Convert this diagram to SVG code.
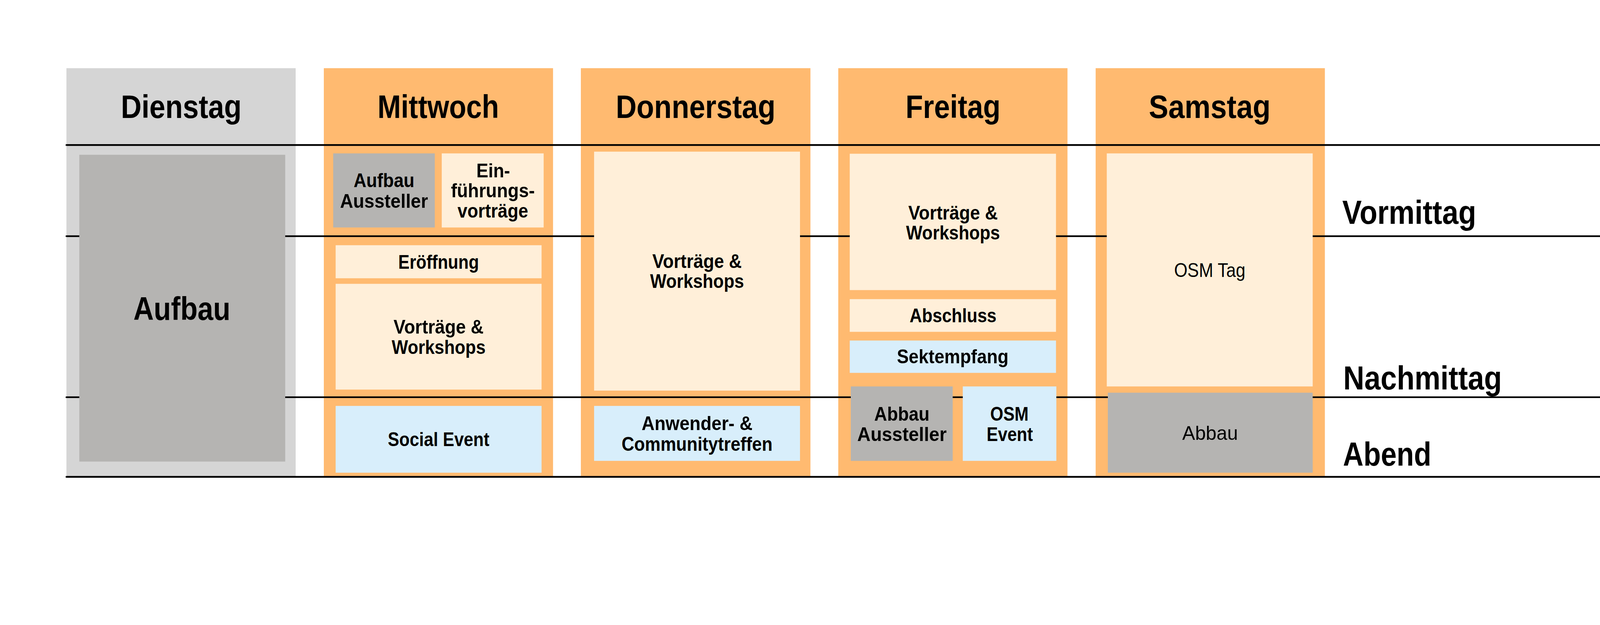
<svg xmlns="http://www.w3.org/2000/svg" width="4600" height="1600" viewBox="0 0 4600 1600" preserveAspectRatio="xMinYMin meet">
<style>
svg{width:100%;height:100%;overflow:hidden}
.bg{fill:#ffffff}
.colg{fill:#d5d5d5}
.colo{fill:#ffba70}
.gray{fill:#b5b4b2}
.cream{fill:#ffefd9}
.blue{fill:#d8eefb}
.ln{stroke:#000;stroke-width:5;stroke-linecap:round;fill:none}
text{font-family:"Liberation Sans",Arial,sans-serif;fill:#000;text-anchor:middle;font-weight:bold}
.h{font-size:94px}
.b{font-size:57px}
.r{font-size:57px;font-weight:normal}
.lab{font-size:95px;text-anchor:start}
</style>
<rect class="bg" x="0" y="0" width="4600" height="1600"/>
<g id="columns">
<rect class="colg" x="191" y="196" width="659" height="1177"/>
<rect class="colo" x="931" y="196" width="659" height="1177"/>
<rect class="colo" x="1670" y="196" width="660" height="1177"/>
<rect class="colo" x="2410" y="196" width="659" height="1177"/>
<rect class="colo" x="3150" y="196" width="659" height="1177"/>
</g>
<g id="connectors">
<line class="ln" x1="191" y1="417" x2="4600" y2="417"/>
<line class="ln" x1="191" y1="679" x2="4600" y2="679"/>
<line class="ln" x1="191" y1="1142" x2="4600" y2="1142"/>
<line class="ln" x1="191" y1="1371" x2="4600" y2="1371"/>
</g>
<g id="dienstag">
<text class="h" x="521" y="339" textLength="347" lengthAdjust="spacingAndGlyphs">Dienstag</text>
</g>
<g id="mittwoch">
<text class="h" x="1260" y="339" textLength="349" lengthAdjust="spacingAndGlyphs">Mittwoch</text>
</g>
<g id="donnerstag">
<text class="h" x="2000" y="339" textLength="459" lengthAdjust="spacingAndGlyphs">Donnerstag</text>
</g>
<g id="freitag">
<text class="h" x="2740" y="339" textLength="273" lengthAdjust="spacingAndGlyphs">Freitag</text>
</g>
<g id="samstag">
<text class="h" x="3478" y="339" textLength="350" lengthAdjust="spacingAndGlyphs">Samstag</text>
</g>
<g id="di-aufbau">
<rect class="gray" x="228" y="445" width="592" height="882"/>
<text class="h" x="523" y="920" textLength="279" lengthAdjust="spacingAndGlyphs">Aufbau</text>
</g>
<g id="mi-aufbau-aussteller">
<rect class="gray" x="958" y="441" width="292" height="213"/>
<text class="b" x="1104" y="538" textLength="175" lengthAdjust="spacingAndGlyphs">Aufbau</text>
<text class="b" x="1104" y="598" textLength="253" lengthAdjust="spacingAndGlyphs">Aussteller</text>
</g>
<g id="mi-einfuehrung">
<rect class="cream" x="1270" y="441" width="293" height="213"/>
<text class="b" x="1418" y="510" textLength="97" lengthAdjust="spacingAndGlyphs">Ein-</text>
<text class="b" x="1417" y="567" textLength="241" lengthAdjust="spacingAndGlyphs">führungs-</text>
<text class="b" x="1417" y="625" textLength="203" lengthAdjust="spacingAndGlyphs">vorträge</text>
</g>
<g id="mi-eroeffnung">
<rect class="cream" x="965" y="705" width="592" height="95"/>
<text class="b" x="1261" y="773" textLength="232" lengthAdjust="spacingAndGlyphs">Eröffnung</text>
</g>
<g id="mi-vortraege">
<rect class="cream" x="965" y="816" width="592" height="304"/>
<text class="b" x="1261" y="959" textLength="259" lengthAdjust="spacingAndGlyphs">Vorträge &amp;</text>
<text class="b" x="1261" y="1017" textLength="270" lengthAdjust="spacingAndGlyphs">Workshops</text>
</g>
<g id="mi-social">
<rect class="blue" x="965" y="1167" width="592" height="192"/>
<text class="b" x="1261" y="1283" textLength="292" lengthAdjust="spacingAndGlyphs">Social Event</text>
</g>
<g id="do-vortraege">
<rect class="cream" x="1708" y="436" width="592" height="687"/>
<text class="b" x="2004" y="770" textLength="257" lengthAdjust="spacingAndGlyphs">Vorträge &amp;</text>
<text class="b" x="2004" y="828" textLength="270" lengthAdjust="spacingAndGlyphs">Workshops</text>
</g>
<g id="do-anwender">
<rect class="blue" x="1708" y="1167" width="592" height="158"/>
<text class="b" x="2004" y="1237" textLength="319" lengthAdjust="spacingAndGlyphs">Anwender- &amp;</text>
<text class="b" x="2004" y="1296" textLength="434" lengthAdjust="spacingAndGlyphs">Communitytreffen</text>
</g>
<g id="fr-vortraege">
<rect class="cream" x="2443" y="442" width="593" height="392"/>
<text class="b" x="2740" y="631" textLength="257" lengthAdjust="spacingAndGlyphs">Vorträge &amp;</text>
<text class="b" x="2740" y="688" textLength="270" lengthAdjust="spacingAndGlyphs">Workshops</text>
</g>
<g id="fr-abschluss">
<rect class="cream" x="2443" y="860" width="593" height="94"/>
<text class="b" x="2740" y="926" textLength="250" lengthAdjust="spacingAndGlyphs">Abschluss</text>
</g>
<g id="fr-sektempfang">
<rect class="blue" x="2443" y="979" width="593" height="93"/>
<text class="b" x="2739" y="1044" textLength="321" lengthAdjust="spacingAndGlyphs">Sektempfang</text>
</g>
<g id="fr-abbau-aussteller">
<rect class="gray" x="2446" y="1111" width="293" height="214"/>
<text class="b" x="2593" y="1210" textLength="159" lengthAdjust="spacingAndGlyphs">Abbau</text>
<text class="b" x="2593" y="1268" textLength="257" lengthAdjust="spacingAndGlyphs">Aussteller</text>
</g>
<g id="fr-osm-event">
<rect class="blue" x="2768" y="1111" width="269" height="214"/>
<text class="b" x="2902" y="1210" textLength="110" lengthAdjust="spacingAndGlyphs">OSM</text>
<text class="b" x="2903" y="1268" textLength="133" lengthAdjust="spacingAndGlyphs">Event</text>
</g>
<g id="sa-osm-tag">
<rect class="cream" x="3182" y="441" width="592" height="670"/>
<text class="r" x="3478" y="796" textLength="205" lengthAdjust="spacingAndGlyphs">OSM Tag</text>
</g>
<g id="sa-abbau">
<rect class="gray" x="3185" y="1129" width="589" height="230"/>
<text class="r" x="3479" y="1264" textLength="160" lengthAdjust="spacingAndGlyphs">Abbau</text>
</g>
<g id="labels">
<text class="lab" x="3859" y="644" textLength="385" lengthAdjust="spacingAndGlyphs">Vormittag</text>
<text class="lab" x="3862" y="1120" textLength="456" lengthAdjust="spacingAndGlyphs">Nachmittag</text>
<text class="lab" x="3861" y="1339" textLength="254" lengthAdjust="spacingAndGlyphs">Abend</text>
</g>
</svg>
